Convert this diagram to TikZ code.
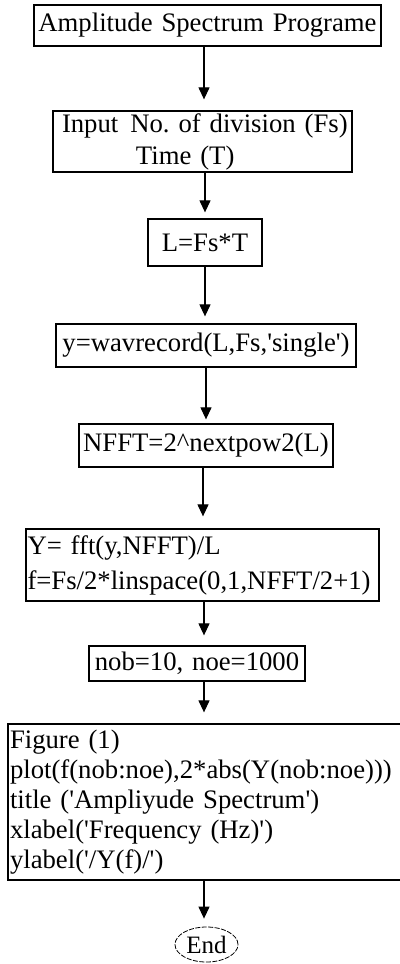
\documentclass[tikz,border=0pt]{standalone}
\usepackage{fontspec}
\setmainfont{Liberation Serif}
\usetikzlibrary{arrows.meta,shapes.geometric}
\newcommand\sq{\textquotesingle}
\begin{document}
\frenchspacing
\begin{tikzpicture}[x=1pt,y=-1pt,
  box/.style={draw,line width=1.3pt,rectangle,inner sep=0pt,font=\fontsize{26.7}{32}\selectfont},
  arr/.style={line width=1.2pt,-{Triangle[length=12pt,width=11pt]}}]
\useasboundingbox (0,0) rectangle (399,964);
\node[box,minimum width=347pt,minimum height=41pt,text width=347pt,align=center] (b1) at (207.5,25.5) {Amplitude Spectrum Programe};
\node[box,minimum width=299pt,minimum height=61pt,inner xsep=6pt,text width=287pt,align=left] (b2) at (202.5,141.5) {\mbox{\hspace*{3pt}Input\hspace{12pt}No. of division (Fs)}\\\hspace*{77pt}Time (T)};
\node[box,minimum width=114pt,minimum height=47pt,text width=114pt,align=center] (b3) at (205,242.5) {L=Fs*T};
\node[box,minimum width=300pt,minimum height=43pt,text width=300pt,align=center] (b4) at (206,345.5) {y=wavrecord(L,Fs,\sq single\sq)};
\node[box,minimum width=254pt,minimum height=43pt,text width=254pt,align=center] (b5) at (206,445.5) {NFFT=2\textasciicircum nextpow2(L)};
\node[box,minimum width=353pt,minimum height=72pt,inner xsep=1.5pt,text width=350pt,align=left,font=\fontsize{26.7}{35}\selectfont] (b6) at (202.5,565) {Y= fft(y,NFFT)/L\\f=Fs/2*linspace(0,1,NFFT/2+1)};
\node[box,minimum width=216pt,minimum height=35pt,text width=216pt,align=center] (b7) at (197,663.5) {nob=10, noe=1000};
\node[box,minimum width=394pt,minimum height=156pt,inner xsep=2pt,text width=390pt,align=left,font=\fontsize{26.7}{30}\selectfont] (b8) at (205,802) {Figure (1)\\plot(f(nob:noe),2*abs(Y(nob:noe)))\\title (\sq Ampliyude Spectrum\sq)\\xlabel(\sq Frequency (Hz)\sq)\\ylabel(\sq/Y(f)/\sq)};
\node[draw,ellipse,line width=0.8pt,dash pattern=on 5pt off 1.5pt,minimum width=63pt,minimum height=35pt,inner sep=0pt,font=\fontsize{25}{28}\selectfont] (e) at (206.5,944.5) {End};
\draw[arr,shorten >=11pt] ([xshift=-3.5pt]b1.south) -- ([xshift=1.5pt]b2.north);
\draw[arr,shorten >=6pt] ([xshift=2.5pt]b2.south) -- (b3.north);
\draw[arr,shorten >=7pt] (b3.south) -- ([xshift=-1pt]b4.north);
\draw[arr,shorten >=4pt] (b4.south) -- (b5.north);
\draw[arr,shorten >=12pt] ([xshift=-3pt]b5.south) -- ([xshift=0.5pt]b6.north);
\draw[arr,shorten >=10pt] ([xshift=1.5pt]b6.south) -- ([xshift=7pt]b7.north);
\draw[arr,shorten >=11pt] ([xshift=7pt]b7.south) -- ([xshift=-1pt]b8.north);
\draw[arr,shorten >=8pt] ([xshift=-1pt]b8.south) -- ([xshift=-2.5pt]e.north);
\end{tikzpicture}
\end{document}
